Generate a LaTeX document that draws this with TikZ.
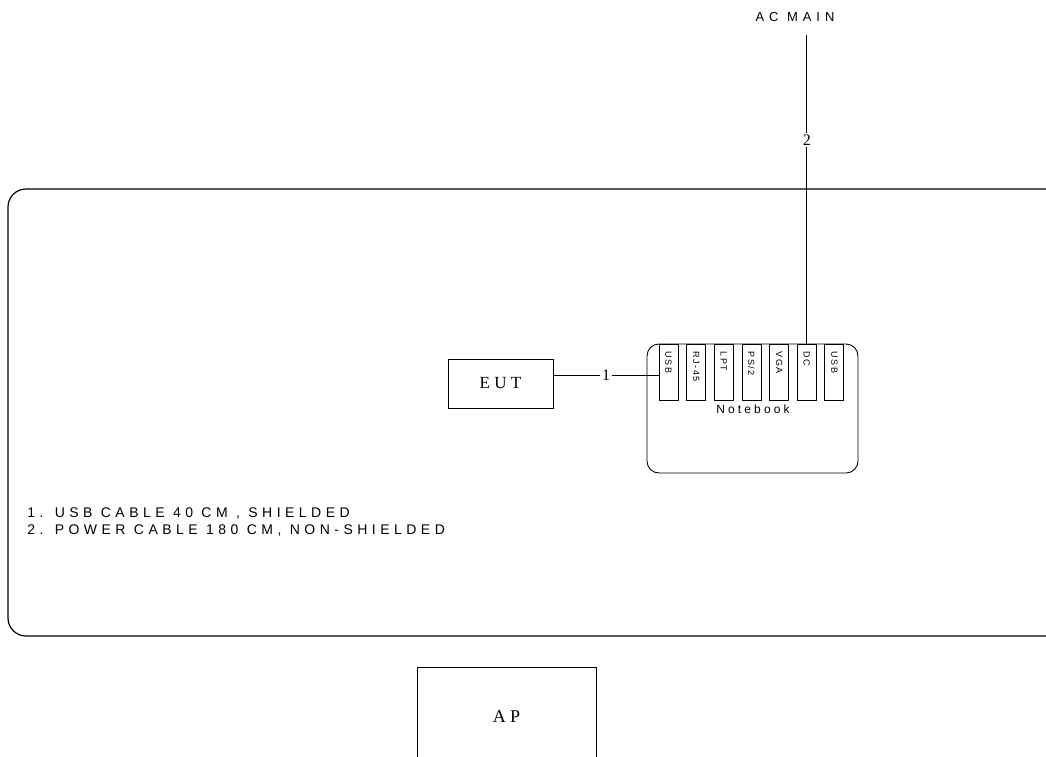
\documentclass[tikz,border=0pt]{standalone}
\usepackage{fontspec}
\usetikzlibrary{positioning,calc}
\setmainfont{Liberation Serif}
\newfontfamily\notefont[LetterSpace=32]{Liberation Sans}
\newfontfamily\acfont[LetterSpace=38]{Liberation Sans}
\newfontfamily\nbfont[LetterSpace=26]{Liberation Sans}
\newfontfamily\portfont[LetterSpace=16]{Liberation Sans}
\newfontfamily\serfont[LetterSpace=25]{Liberation Serif}

\begin{document}
\begin{tikzpicture}[x=1pt,y=-1pt,line width=0.9pt,
    box/.style={draw,inner sep=0pt},
    port/.style={draw,inner sep=0pt,minimum width=19pt,minimum height=56pt,anchor=north},
    portlab/.style={rotate=-90,anchor=west,inner sep=0pt,font=\portfont\fontsize{9}{10}\selectfont},
    cablelab/.style={fill=white,inner sep=2pt,font=\fontsize{16}{17}\selectfont}]
  \useasboundingbox (0,0) rectangle (1046,756);
  % test table
  \draw[line width=1.2pt,rounded corners=18pt] (8,189) rectangle (1070,636);
  % notebook and its ports
  \node[box,rounded corners=12pt,minimum width=211pt,minimum height=129pt] (nb) at (752.5,408.5) {};
  \foreach \lab [count=\i] in {USB,RJ-45,LPT,PS/2,VGA,DC,USB}{
    \node[port] (p\i) at (668.5+27.65*\i-27.65,344) {};
    \node[portlab] (l\i) at ($(p\i.north)+(0,7.5)$) {\lab};
  }
  \node[font=\nbfont\fontsize{12}{13}\selectfont] (nbname) at (753,409) {Notebook};
  % EUT
  \node[box,minimum width=105pt,minimum height=49pt,font=\serfont\fontsize{17}{18}\selectfont] (eut) at (500.5,383.5) {EUT};
  \draw ([yshift=8.5pt]eut.east) -- node[cablelab] {1} ([yshift=8.5pt]eut.east -| p1.west);
  % AC main
  \node[font=\acfont\fontsize{13}{14}\selectfont] (ac) at (795,17) {AC MAIN};
  \coordinate (acend) at (p6.north |- 0,35);
  \draw (p6.north) -- node[cablelab,pos=0.66] {2} (acend);
  % cable list
  \node[anchor=west,align=left,inner sep=0pt,font=\notefont\fontsize{14}{17}\selectfont] (notes) at (27,522)
    {1. USB CABLE 40 CM , SHIELDED\\2. POWER CABLE 180 CM, NON-SHIELDED};
  % AP
  \node[box,minimum width=179pt,minimum height=100pt,font=\serfont\fontsize{18}{19}\selectfont] (ap) at (506.5,717) {AP};
\end{tikzpicture}
\end{document}
